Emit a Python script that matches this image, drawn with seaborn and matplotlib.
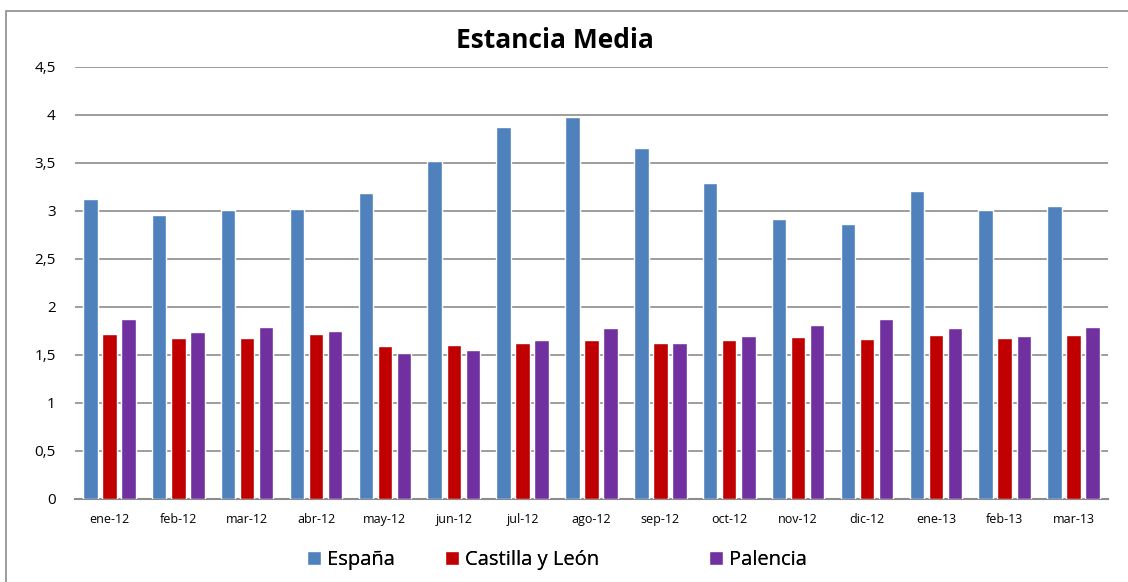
import matplotlib.pyplot as plt
import matplotlib.ticker as mticker
from matplotlib.patches import Rectangle
import pandas as pd
import seaborn as sns

meses = ['ene-12', 'feb-12', 'mar-12', 'abr-12', 'may-12', 'jun-12', 'jul-12', 'ago-12',
         'sep-12', 'oct-12', 'nov-12', 'dic-12', 'ene-13', 'feb-13', 'mar-13']
espana = [3.12, 2.96, 3.01, 3.02, 3.19, 3.52, 3.87, 3.98, 3.66, 3.29, 2.92, 2.86, 3.21, 3.01, 3.05]
castilla = [1.72, 1.68, 1.68, 1.72, 1.59, 1.60, 1.62, 1.66, 1.62, 1.66, 1.69, 1.67, 1.71, 1.68, 1.71]
palencia = [1.88, 1.74, 1.79, 1.75, 1.52, 1.55, 1.66, 1.78, 1.62, 1.70, 1.81, 1.88, 1.78, 1.70, 1.79]
series = ['España', 'Castilla y León', 'Palencia']
colores = ['#4F81BD', '#C00000', '#7030A0']

df = pd.DataFrame({
    'mes': meses * 3,
    'valor': espana + castilla + palencia,
    'serie': [s for s in series for _ in meses],
})

sns.set_style('white')
plt.rcParams['font.family'] = ['Open Sans', 'DejaVu Sans']
plt.rcParams['text.color'] = 'black'
plt.rcParams['xtick.color'] = 'black'
plt.rcParams['ytick.color'] = 'black'

fig = plt.figure(figsize=(11.28, 5.82), dpi=100)
ax = fig.add_axes([75 / 1128, 1 - 499 / 582, 1033 / 1128, 432 / 582])

sns.barplot(data=df, x='mes', y='valor', hue='serie', palette=colores, saturation=1,
            width=0.83, gap=0.24, ax=ax, legend=True, zorder=3)

ax.set_ylim(0, 4.5)
ax.set_xlim(-0.5, len(meses) - 0.5)
ax.yaxis.set_major_locator(mticker.MultipleLocator(0.5))
ax.yaxis.set_major_formatter(mticker.FuncFormatter(lambda v, p: f'{v:g}'.replace('.', ',')))
ax.grid(axis='y', color='#8c8c8c', linewidth=1.2, zorder=0)
ax.set_axisbelow(True)
for s in ['top', 'right', 'left']:
    ax.spines[s].set_visible(False)
ax.spines['bottom'].set_color('#8c8c8c')
ax.spines['bottom'].set_linewidth(1.5)
ax.tick_params(axis='y', labelsize=11, length=0, pad=14)
ax.tick_params(axis='x', labelsize=9, length=0, pad=10)
ax.set_xlabel('')
ax.set_ylabel('')

fig.text(555 / 1128, 1 - 40 / 582, 'Estancia Media', fontsize=19, fontweight='bold',
         ha='center', va='center', color='black')

handles, labels = ax.get_legend_handles_labels()
ax.get_legend().remove()
for h, lab, x0 in zip(handles, labels, [299, 437, 701]):
    leg = fig.legend([h], [lab], loc='center left', bbox_to_anchor=(x0 / 1128, 1 - 560 / 582),
                     frameon=False, fontsize=14.5, handlelength=0.7, handleheight=0.7,
                     handletextpad=0.3, borderaxespad=0, labelcolor='black')
    fig.add_artist(leg)

fig.patches.append(Rectangle((6 / 1128, -0.1), 1.2, 1.1 - 11 / 582, transform=fig.transFigure,
                             fill=False, edgecolor='#8c8c8c', linewidth=1.2))

fig.savefig('out.png', dpi=100)
